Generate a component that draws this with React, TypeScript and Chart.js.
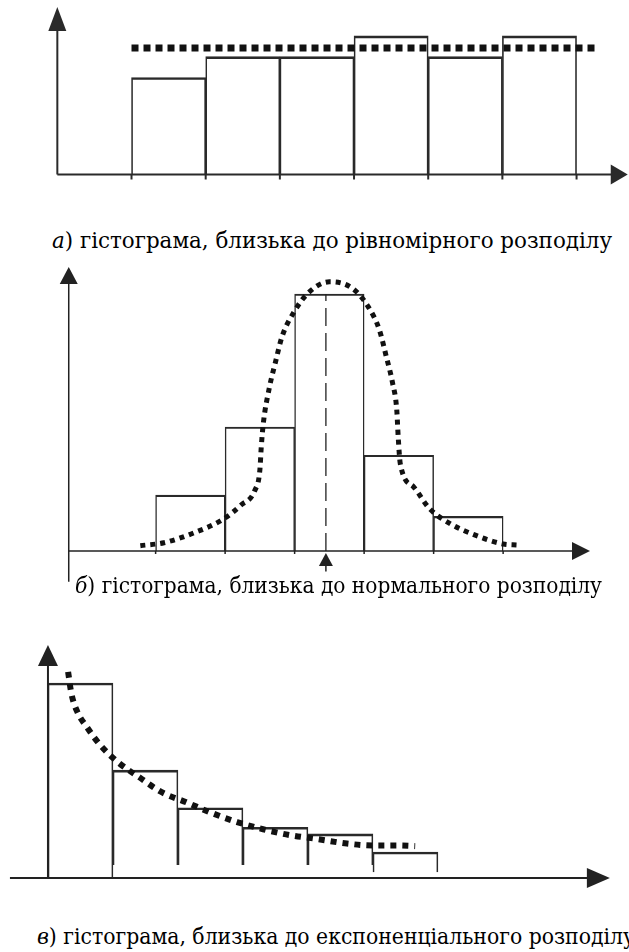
import React, { useEffect, useLayoutEffect, useRef } from "react";
import { Chart, registerables } from "chart.js";

Chart.register(...registerables);

// ---------- а) uniform ----------
const uniformBins = [0, 1, 2, 3, 4, 5];
const uniformCounts = [14, 17, 17, 20, 17, 20];
const uniformLevelX = [0, 6.25];
const uniformLevelY = [18.25, 18.25];

// ---------- б) normal ----------
const normalBins = [0, 1, 2, 3, 4];
const normalCounts = [8.7, 19.3, 40, 14.9, 5.4];
const normalCurveX = [-0.22, 0.12, 0.51, 0.97, 1.23, 1.43, 1.5, 1.52, 1.55, 1.64, 1.72, 1.82, 1.98, 2.19, 2.5, 2.83, 3.06, 3.22, 3.32, 3.41, 3.47, 3.49, 3.52, 3.71, 3.94, 4.23, 4.59, 5.0, 5.21];
const normalCurveY = [0.83, 1.29, 2.65, 4.93, 7.16, 9.49, 12.6, 16.2, 19.9, 25.6, 29.2, 33.4, 37.0, 40.1, 41.9, 40.9, 38.0, 34.4, 30.2, 26.1, 21.9, 17.8, 13.6, 10.0, 6.6, 4.3, 2.5, 1.09, 0.93];
const normalMean = [2.45];
const normalMeanTop = [40];

// ---------- в) exponential ----------
const expBins = [0, 1, 2, 3, 4, 5];
const expCounts = [30, 16.6, 10.8, 7.8, 6.8, 4];
const expBarFloor = [0, 2, 2, 2, 2, 0.9];
const expCurveX = [0.31, 0.36, 0.45, 0.6, 0.8, 1.08, 1.42, 1.75, 2.14, 2.52, 2.91, 3.31, 3.72, 4.14, 4.6, 5.0, 5.38, 5.65];
const expCurveY = [31.7, 28.4, 25.6, 23.2, 20.5, 17.8, 15.4, 13.2, 11.6, 10.0, 8.6, 7.5, 6.6, 6.0, 5.3, 5.0, 5.0, 4.9];

const captionLetters = ["а", "б", "в"];
const captionTexts = [
  ") гістограма, близька до рівномірного розподілу",
  ") гістограма, близька до нормального розподілу",
  ") гістограма, близька до експоненціального розподілу",
];

const axisPlugin = {
  id: "axisArrows",
  afterDraw(chart: any, _args: any, o: any) {
    const { ctx } = chart;
    const xs = chart.scales.x;
    const ys = chart.scales.y;
    const X = (v: number) => xs.getPixelForValue(v);
    const Y = (v: number) => ys.getPixelForValue(v);
    ctx.save();
    ctx.strokeStyle = o.color;
    ctx.fillStyle = o.color;
    ctx.lineWidth = o.width;
    ctx.setLineDash([]);
    const y0 = Y(0);
    const xTip = X(o.xTo);
    ctx.beginPath();
    ctx.moveTo(X(o.xFrom), y0);
    ctx.lineTo(xTip - o.xHead + 1, y0);
    ctx.stroke();
    ctx.beginPath();
    ctx.moveTo(xTip, y0);
    ctx.lineTo(xTip - o.xHead, y0 - o.xHalf);
    ctx.lineTo(xTip - o.xHead, y0 + o.xHalf);
    ctx.closePath();
    ctx.fill();
    const ax = X(o.yAt);
    const yTip = Y(o.yTo);
    ctx.beginPath();
    ctx.moveTo(ax, Y(o.yFrom));
    ctx.lineTo(ax, yTip + o.yHead - 1);
    ctx.stroke();
    ctx.beginPath();
    ctx.moveTo(ax, yTip);
    ctx.lineTo(ax - o.yHalf, yTip + o.yHead);
    ctx.lineTo(ax + o.yHalf, yTip + o.yHead);
    ctx.closePath();
    ctx.fill();
    (o.ticks || []).forEach((t: number) => {
      ctx.beginPath();
      ctx.moveTo(X(t), y0);
      ctx.lineTo(X(t), y0 + o.tickLen);
      ctx.stroke();
    });
    if (o.marker) {
      const m = o.marker;
      const mx = X(m.x);
      const mt = Y(m.tip);
      ctx.beginPath();
      ctx.moveTo(mx, Y(m.tail));
      ctx.lineTo(mx, mt + m.head - 1);
      ctx.stroke();
      ctx.beginPath();
      ctx.moveTo(mx, mt);
      ctx.lineTo(mx - m.half, mt + m.head);
      ctx.lineTo(mx + m.half, mt + m.head);
      ctx.closePath();
      ctx.fill();
    }
    ctx.restore();
  },
};

type PanelProps = {
  top: number;
  height: number;
  datasets: any[];
  xRange: [number, number];
  yRange: [number, number];
  axes: any;
};

function Panel({ top, height, datasets, xRange, yRange, axes }: PanelProps) {
  const ref = useRef<HTMLCanvasElement | null>(null);
  useEffect(() => {
    if (!ref.current) return;
    const chart = new Chart(ref.current, {
      type: "bar",
      data: { datasets },
      options: {
        animation: false,
        responsive: false,
        devicePixelRatio: 1,
        events: [],
        layout: { padding: 0 },
        scales: {
          x: {
            type: "linear",
            min: xRange[0],
            max: xRange[1],
            display: false,
            afterBuildTicks: (s: any) => {
              s.ticks = [];
            },
          },
          y: { type: "linear", min: yRange[0], max: yRange[1], display: false },
        },
        plugins: {
          legend: { display: false },
          tooltip: { enabled: false },
          axisArrows: axes,
        } as any,
      },
      plugins: [axisPlugin],
    });
    return () => chart.destroy();
  }, []);
  return (
    <canvas
      ref={ref}
      width={629}
      height={height}
      style={{ position: "absolute", left: 0, top, width: 629, height }}
    />
  );
}

const barStyle = (width: any) => ({
  type: "bar",
  backgroundColor: "rgba(0,0,0,0)",
  borderColor: "#2a2a2a",
  borderWidth: width,
  borderSkipped: "bottom",
  barPercentage: 1,
  categoryPercentage: 1,
  order: 2,
});

const dotted = (w: number, dash: number[]) => ({
  type: "line",
  borderColor: "#111",
  borderWidth: w,
  borderDash: dash,
  borderCapStyle: "butt",
  pointRadius: 0,
  fill: false,
  cubicInterpolationMode: "monotone",
  order: 0,
});

const captionTops = [228, 573, 924];
const captionLefts = [52, 75, 37];
const captionWidths = [560, 527, 598];

export default function App() {
  const capRefs = useRef<(HTMLDivElement | null)[]>([]);

  useLayoutEffect(() => {
    capRefs.current.forEach((el, i) => {
      if (!el) return;
      const w = el.getBoundingClientRect().width;
      if (w > 0) {
        el.style.transformOrigin = "0 50%";
        el.style.transform = `scaleX(${captionWidths[i] / w})`;
      }
    });
  }, []);

  const uniformSets = [
    {
      ...dotted(7, [7, 5]),
      data: uniformLevelX.map((x, i) => ({ x, y: uniformLevelY[i] })),
    },
    {
      ...barStyle({ left: 1, right: 1, top: 2 }),
      data: uniformBins.map((b, i) => ({ x: b + 0.5, y: uniformCounts[i] })),
    },
  ];
  const normalSets = [
    {
      ...dotted(5, [5, 5]),
      data: normalCurveX.map((x, i) => ({ x, y: normalCurveY[i] })),
    },
    {
      type: "line",
      borderColor: "#222",
      borderWidth: 1.3,
      borderDash: [18, 7],
      pointRadius: 0,
      order: 1,
      data: [
        { x: normalMean[0], y: 0 },
        { x: normalMean[0], y: normalMeanTop[0] },
      ],
    },
    {
      ...barStyle({ left: 0.8, right: 0.8, top: 1.5 }),
      data: normalBins.map((b, i) => ({ x: b + 0.5, y: normalCounts[i] })),
    },
  ];
  const expSets = [
    {
      ...dotted(6, [6, 6]),
      data: expCurveX.map((x, i) => ({ x, y: expCurveY[i] })),
    },
    {
      ...barStyle({ left: 1, right: 1, top: 2 }),
      data: expBins.map((b, i) => ({ x: b + 0.5, y: [expBarFloor[i], expCounts[i]] })),
    },
  ];

  return (
    <div
      style={{
        position: "absolute",
        left: 0,
        top: 0,
        width: 629,
        height: 952,
        overflow: "hidden",
        background: "#fff",
      }}
    >
      <Panel
        top={0}
        height={200}
        datasets={uniformSets}
        xRange={[-1.773, 6.707]}
        yRange={[-3.68, 25.18]}
        axes={{
          color: "#2a2a2a",
          width: 2,
          xFrom: -1,
          xTo: 6.69,
          xHead: 17,
          xHalf: 10,
          yAt: -1,
          yFrom: 0,
          yTo: 24.17,
          yHead: 24,
          yHalf: 9,
          ticks: [0, 1, 2, 3, 4, 5, 6],
          tickLen: 5,
        }}
      />
      <Panel
        top={255}
        height={340}
        datasets={normalSets}
        xRange={[-2.239, 6.811]}
        yRange={[-6.85, 46.07]}
        axes={{
          color: "#222",
          width: 1.5,
          xFrom: -1.25,
          xTo: 6.25,
          xHead: 18,
          xHalf: 9,
          yAt: -1.25,
          yFrom: -4.8,
          yTo: 44.2,
          yHead: 17,
          yHalf: 9,
          ticks: [0, 1, 2, 3, 4, 5],
          tickLen: 3,
          marker: { x: normalMean[0], tip: -0.3, tail: -3.2, head: 13, half: 7 },
        }}
      />
      <Panel
        top={630}
        height={260}
        datasets={expSets}
        xRange={[-0.738, 8.94]}
        yRange={[-1.846, 38.15]}
        axes={{
          color: "#222",
          width: 2,
          xFrom: -0.585,
          xTo: 8.646,
          xHead: 23,
          xHalf: 10,
          yAt: 0,
          yFrom: 0,
          yTo: 35.85,
          yHead: 21,
          yHalf: 10,
          ticks: [],
          tickLen: 0,
        }}
      />
      {captionTexts.map((t, i) => (
        <div
          key={i}
          ref={(el) => {
            capRefs.current[i] = el;
          }}
          style={{
            position: "absolute",
            left: captionLefts[i],
            top: captionTops[i],
            fontFamily: "\"DejaVu Serif Condensed\", \"DejaVu Serif\", serif",
            fontStretch: "condensed",
            fontSize: 22,
            lineHeight: "26px",
            whiteSpace: "nowrap",
            color: "#000",
          }}
        >
          <i>{captionLetters[i]}</i>
          {t}
        </div>
      ))}
    </div>
  );
}
